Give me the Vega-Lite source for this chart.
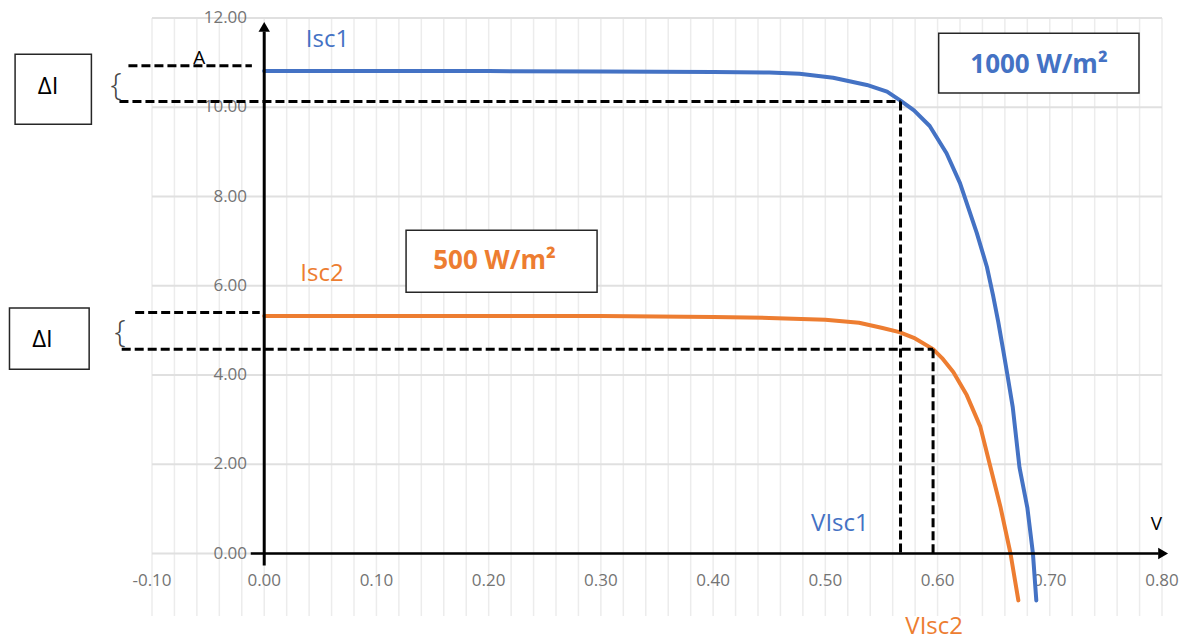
{
  "$schema": "https://vega.github.io/schema/vega-lite/v6.json",
  "width": 1010,
  "height": 598,
  "autosize": {"type": "none"},
  "padding": {"left": 152, "top": 18, "right": 32, "bottom": 26},
  "background": "white",
  "config": {
    "view": {"stroke": null},
    "font": "Open Sans",
    "locale": {"number": {"decimal": ".", "thousands": ",", "grouping": [3], "currency": ["", ""], "minus": "-"}}
  },
  "datasets": {
    "curves": [
      {"irr": "1000", "V": 0.0, "I": 10.81},
      {"irr": "1000", "V": 0.1, "I": 10.81},
      {"irr": "1000", "V": 0.2, "I": 10.81},
      {"irr": "1000", "V": 0.3, "I": 10.8},
      {"irr": "1000", "V": 0.4, "I": 10.79},
      {"irr": "1000", "V": 0.45, "I": 10.78},
      {"irr": "1000", "V": 0.477, "I": 10.75},
      {"irr": "1000", "V": 0.507, "I": 10.66},
      {"irr": "1000", "V": 0.537, "I": 10.5},
      {"irr": "1000", "V": 0.555, "I": 10.35},
      {"irr": "1000", "V": 0.567, "I": 10.15},
      {"irr": "1000", "V": 0.579, "I": 9.93},
      {"irr": "1000", "V": 0.593, "I": 9.58},
      {"irr": "1000", "V": 0.608, "I": 8.97},
      {"irr": "1000", "V": 0.62, "I": 8.3},
      {"irr": "1000", "V": 0.626, "I": 7.85},
      {"irr": "1000", "V": 0.635, "I": 7.18},
      {"irr": "1000", "V": 0.644, "I": 6.42},
      {"irr": "1000", "V": 0.6495, "I": 5.78},
      {"irr": "1000", "V": 0.654, "I": 5.2},
      {"irr": "1000", "V": 0.658, "I": 4.63},
      {"irr": "1000", "V": 0.662, "I": 4.04},
      {"irr": "1000", "V": 0.667, "I": 3.28},
      {"irr": "1000", "V": 0.673, "I": 1.93},
      {"irr": "1000", "V": 0.68, "I": 1.03},
      {"irr": "1000", "V": 0.685, "I": 0.0},
      {"irr": "1000", "V": 0.688, "I": -1.05},
      {"irr": "500", "V": 0.0, "I": 5.32},
      {"irr": "500", "V": 0.1, "I": 5.32},
      {"irr": "500", "V": 0.2, "I": 5.32},
      {"irr": "500", "V": 0.3, "I": 5.32},
      {"irr": "500", "V": 0.4, "I": 5.3},
      {"irr": "500", "V": 0.45, "I": 5.28},
      {"irr": "500", "V": 0.5, "I": 5.24},
      {"irr": "500", "V": 0.53, "I": 5.17},
      {"irr": "500", "V": 0.55, "I": 5.06},
      {"irr": "500", "V": 0.566, "I": 4.96},
      {"irr": "500", "V": 0.58, "I": 4.82},
      {"irr": "500", "V": 0.596, "I": 4.58},
      {"irr": "500", "V": 0.604, "I": 4.38},
      {"irr": "500", "V": 0.614, "I": 4.07},
      {"irr": "500", "V": 0.626, "I": 3.55},
      {"irr": "500", "V": 0.638, "I": 2.85},
      {"irr": "500", "V": 0.647, "I": 1.95},
      {"irr": "500", "V": 0.656, "I": 1.05},
      {"irr": "500", "V": 0.665, "I": 0.0},
      {"irr": "500", "V": 0.672, "I": -1.05}
    ],
    "vgrid": [
      {"V": -0.1}, {"V": -0.08}, {"V": -0.06}, {"V": -0.04}, {"V": -0.02},
      {"V": 0.0}, {"V": 0.02}, {"V": 0.04}, {"V": 0.06}, {"V": 0.08},
      {"V": 0.1}, {"V": 0.12}, {"V": 0.14}, {"V": 0.16}, {"V": 0.18},
      {"V": 0.2}, {"V": 0.22}, {"V": 0.24}, {"V": 0.26}, {"V": 0.28},
      {"V": 0.3}, {"V": 0.32}, {"V": 0.34}, {"V": 0.36}, {"V": 0.38},
      {"V": 0.4}, {"V": 0.42}, {"V": 0.44}, {"V": 0.46}, {"V": 0.48},
      {"V": 0.5}, {"V": 0.52}, {"V": 0.54}, {"V": 0.56}, {"V": 0.58},
      {"V": 0.6}, {"V": 0.62}, {"V": 0.64}, {"V": 0.66}, {"V": 0.68},
      {"V": 0.7}, {"V": 0.72}, {"V": 0.74}, {"V": 0.76}, {"V": 0.78},
      {"V": 0.8}
    ],
    "xticks": [
      {"V": -0.1}, {"V": 0.0}, {"V": 0.1}, {"V": 0.2}, {"V": 0.3},
      {"V": 0.4}, {"V": 0.5}, {"V": 0.6}, {"V": 0.7}, {"V": 0.8}
    ],
    "yticks": [
      {"I": 0}, {"I": 2}, {"I": 4}, {"I": 6}, {"I": 8}, {"I": 10}, {"I": 12}
    ],
    "guides": [
      {"V": -0.121, "I": 10.93, "V2": -0.011, "I2": 10.93},
      {"V": -0.129, "I": 10.13, "V2": 0.567, "I2": 10.13},
      {"V": 0.567, "I": 10.13, "V2": 0.567, "I2": 0},
      {"V": -0.115, "I": 5.4, "V2": -0.004, "I2": 5.4},
      {"V": -0.127, "I": 4.58, "V2": 0.596, "I2": 4.58},
      {"V": 0.596, "I": 4.58, "V2": 0.596, "I2": 0}
    ],
    "boxes": [
      {"V": -0.222, "V2": -0.154, "I": 11.19, "I2": 9.62},
      {"V": -0.227, "V2": -0.156, "I": 5.5, "I2": 4.13},
      {"V": 0.601, "V2": 0.7795, "I": 11.66, "I2": 10.32},
      {"V": 0.1264, "V2": 0.2966, "I": 7.245, "I2": 5.855}
    ],
    "deltas": [
      {"t": "ΔI", "V": -0.1926, "I": 10.3},
      {"t": "ΔI", "V": -0.1976, "I": 4.63}
    ],
    "braces": [
      {"V": -0.132, "I": 10.5},
      {"V": -0.1285, "I": 4.96}
    ],
    "irradiance": [
      {"irr": "1000", "t": "1000 W/m²", "V": 0.6904, "I": 10.77},
      {"irr": "500", "t": "500 W/m²", "V": 0.2052, "I": 6.375}
    ],
    "curveLabels": [
      {"irr": "1000", "t": "Isc1", "V": 0.0564, "I": 11.35},
      {"irr": "500", "t": "Isc2", "V": 0.0515, "I": 6.11},
      {"irr": "1000", "t": "VIsc1", "V": 0.513, "I": 0.506},
      {"irr": "500", "t": "VIsc2", "V": 0.597, "I": -1.8}
    ],
    "units": [
      {"t": "A", "V": -0.058, "I": 10.98},
      {"t": "V", "V": 0.795, "I": 0.53}
    ],
    "origin": [{}]
  },
  "layer": [
    {
      "data": {"name": "vgrid"},
      "mark": {"type": "rule", "stroke": "#ececec", "strokeWidth": 1.5},
      "encoding": {
        "x": {"field": "V", "type": "quantitative", "scale": {"domain": [-0.1, 0.8], "nice": false, "zero": false}, "axis": null},
        "y": {"datum": 12, "type": "quantitative", "scale": {"domain": [-1.4, 12], "nice": false, "zero": false}, "axis": null},
        "y2": {"datum": -1.4}
      }
    },
    {
      "data": {"name": "yticks"},
      "mark": {"type": "rule", "stroke": "#e0e0e0", "strokeWidth": 2},
      "encoding": {
        "y": {"field": "I", "type": "quantitative", "axis": null},
        "x": {"datum": -0.1, "type": "quantitative", "axis": null},
        "x2": {"datum": 0.8}
      }
    },
    {
      "data": {"name": "yticks"},
      "mark": {"type": "text", "align": "right", "baseline": "middle", "fontSize": 17, "fill": "#747474"},
      "encoding": {
        "y": {"field": "I", "type": "quantitative", "axis": null},
        "x": {"datum": -0.0153, "type": "quantitative", "axis": null},
        "text": {"field": "I", "type": "quantitative", "format": ".2f"}
      }
    },
    {
      "data": {"name": "xticks"},
      "mark": {"type": "text", "align": "center", "baseline": "middle", "fontSize": 17, "fill": "#747474"},
      "encoding": {
        "x": {"field": "V", "type": "quantitative", "axis": null},
        "y": {"datum": -0.62, "type": "quantitative", "axis": null},
        "text": {"field": "V", "type": "quantitative", "format": ".2f"}
      }
    },
    {
      "data": {"name": "curves"},
      "mark": {"type": "line", "strokeWidth": 4, "strokeCap": "round", "strokeJoin": "round"},
      "encoding": {
        "x": {"field": "V", "type": "quantitative", "axis": null},
        "y": {"field": "I", "type": "quantitative", "axis": null},
        "color": {"field": "irr", "type": "nominal", "scale": {"domain": ["1000", "500"], "range": ["#4472C4", "#ED7D31"]}, "legend": null},
        "order": {"field": "V", "type": "quantitative"}
      }
    },
    {
      "data": {"name": "origin"},
      "mark": {"type": "rule", "stroke": "black", "strokeWidth": 3},
      "encoding": {
        "x": {"datum": 0, "type": "quantitative", "axis": null},
        "y": {"datum": -0.27, "type": "quantitative", "axis": null},
        "y2": {"datum": 11.7}
      }
    },
    {
      "data": {"name": "origin"},
      "mark": {"type": "rule", "stroke": "black", "strokeWidth": 2.5},
      "encoding": {
        "y": {"datum": 0, "type": "quantitative", "axis": null},
        "x": {"datum": -0.012, "type": "quantitative", "axis": null},
        "x2": {"datum": 0.797}
      }
    },
    {
      "data": {"name": "origin"},
      "mark": {"type": "point", "shape": "triangle-up", "filled": true, "fill": "black", "opacity": 1, "size": 130, "strokeWidth": 0},
      "encoding": {
        "x": {"datum": 0, "type": "quantitative", "axis": null},
        "y": {"datum": 11.8, "type": "quantitative", "axis": null}
      }
    },
    {
      "data": {"name": "origin"},
      "mark": {"type": "point", "shape": "triangle-right", "filled": true, "fill": "black", "opacity": 1, "size": 130, "strokeWidth": 0},
      "encoding": {
        "x": {"datum": 0.801, "type": "quantitative", "axis": null},
        "y": {"datum": 0, "type": "quantitative", "axis": null}
      }
    },
    {
      "data": {"name": "guides"},
      "mark": {"type": "rule", "stroke": "black", "strokeWidth": 3, "strokeDash": [9, 4]},
      "encoding": {
        "x": {"field": "V", "type": "quantitative", "axis": null},
        "x2": {"field": "V2"},
        "y": {"field": "I", "type": "quantitative", "axis": null},
        "y2": {"field": "I2"}
      }
    },
    {
      "data": {"name": "boxes"},
      "mark": {"type": "rect", "fill": "white", "stroke": "#262626", "strokeWidth": 1.5},
      "encoding": {
        "x": {"field": "V", "type": "quantitative", "axis": null},
        "x2": {"field": "V2"},
        "y": {"field": "I", "type": "quantitative", "axis": null},
        "y2": {"field": "I2"}
      }
    },
    {
      "data": {"name": "deltas"},
      "mark": {"type": "text", "align": "center", "baseline": "alphabetic", "fontSize": 24, "fill": "black"},
      "encoding": {
        "x": {"field": "V", "type": "quantitative", "axis": null},
        "y": {"field": "I", "type": "quantitative", "axis": null},
        "text": {"field": "t"}
      }
    },
    {
      "data": {"name": "braces"},
      "mark": {"type": "text", "align": "center", "baseline": "middle", "fontSize": 32, "fontWeight": 300, "fill": "#444444", "text": "{"},
      "encoding": {
        "x": {"field": "V", "type": "quantitative", "axis": null},
        "y": {"field": "I", "type": "quantitative", "axis": null}
      }
    },
    {
      "data": {"name": "irradiance"},
      "mark": {"type": "text", "align": "center", "baseline": "alphabetic", "fontSize": 26, "fontWeight": "bold"},
      "encoding": {
        "x": {"field": "V", "type": "quantitative", "axis": null},
        "y": {"field": "I", "type": "quantitative", "axis": null},
        "text": {"field": "t"},
        "color": {"field": "irr", "type": "nominal", "legend": null}
      }
    },
    {
      "data": {"name": "curveLabels"},
      "mark": {"type": "text", "align": "center", "baseline": "alphabetic", "fontSize": 24},
      "encoding": {
        "x": {"field": "V", "type": "quantitative", "axis": null},
        "y": {"field": "I", "type": "quantitative", "axis": null},
        "text": {"field": "t"},
        "color": {"field": "irr", "type": "nominal", "legend": null}
      }
    },
    {
      "data": {"name": "units"},
      "mark": {"type": "text", "align": "center", "baseline": "alphabetic", "fontSize": 19, "fill": "black"},
      "encoding": {
        "x": {"field": "V", "type": "quantitative", "axis": null},
        "y": {"field": "I", "type": "quantitative", "axis": null},
        "text": {"field": "t"}
      }
    }
  ]
}
